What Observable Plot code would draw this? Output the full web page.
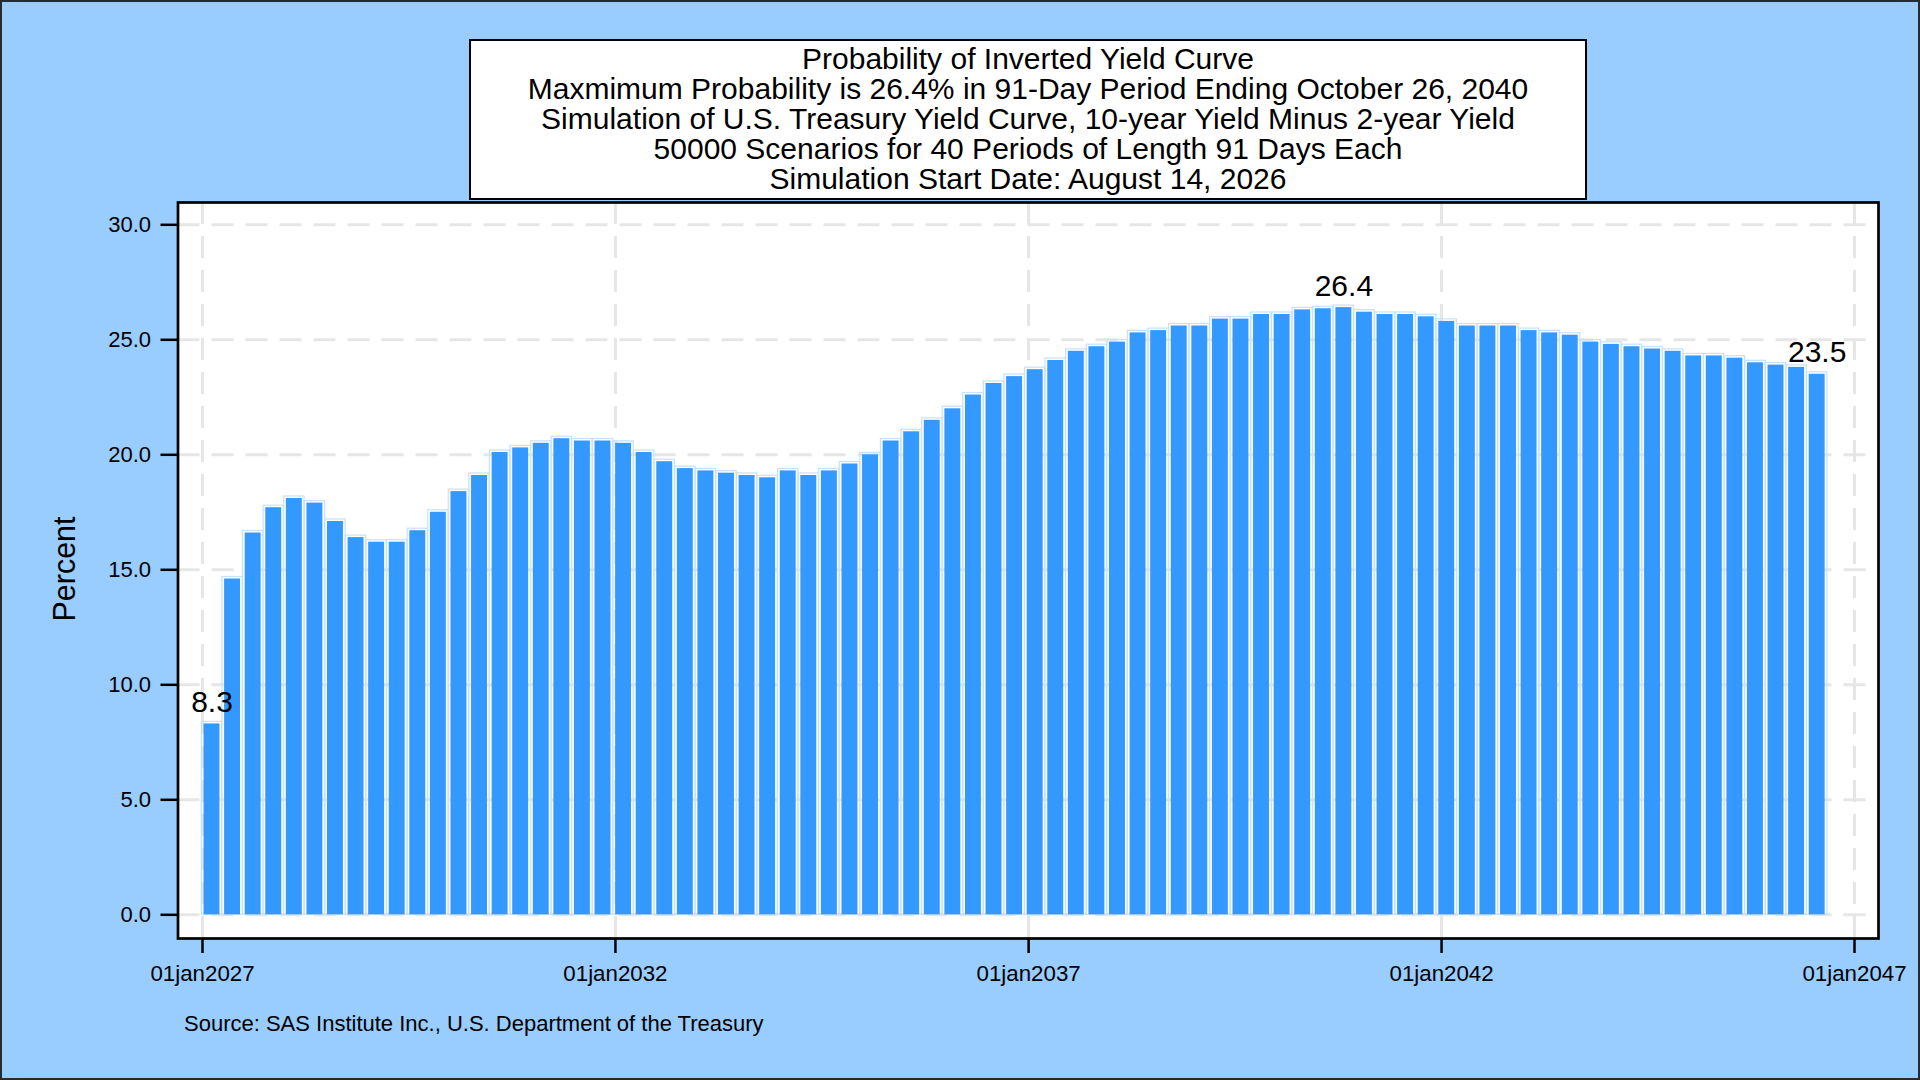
<!DOCTYPE html>
<html>
<head>
<meta charset="utf-8">
<script src="https://cdn.jsdelivr.net/npm/d3@7"></script>
<script src="https://cdn.jsdelivr.net/npm/@observablehq/plot@0.6"></script>
<style>
  html, body { margin: 0; padding: 0; overflow: hidden; }
  #page {
    position: relative; width: 1920px; height: 1080px;
    background: #99ccff; box-sizing: border-box;
    box-shadow: inset 0 0 0 2px #2a2a2a;
    font-family: "Liberation Sans", Arial, sans-serif; color: #000;
  }
  #chart { position: absolute; left: 0; top: 0; }
  #title {
    position: absolute; left: 469px; top: 39px; width: 1118px; height: 161px;
    box-sizing: border-box; border: 2.5px solid #000; background: #fff;
    text-align: center; font-size: 30px; line-height: 30px; padding-top: 2.5px;
    z-index: 2; white-space: nowrap;
  }
  #ylabel {
    position: absolute; left: 64px; top: 569px; font-size: 30.5px; line-height: 30px;
    transform: translate(-50%, -50%) rotate(-90deg); white-space: nowrap;
  }
  #source {
    position: absolute; left: 184px; top: 1013px; font-size: 22px; line-height: 22px;
    white-space: nowrap;
  }
</style>
</head>
<body>
<div id="page">
  <div id="chart"></div>
  <div id="title"></div>
  <div id="ylabel">Percent</div>
  <div id="source">Source: SAS Institute Inc., U.S. Department of the Treasury</div>
</div>
<script>
// ---- data ----
const titleLines = [
  "Probability of Inverted Yield Curve",
  "Maxmimum Probability is 26.4% in 91-Day Period Ending October 26, 2040",
  "Simulation of U.S. Treasury Yield Curve, 10-year Yield Minus 2-year Yield",
  "50000 Scenarios for 40 Periods of Length 91 Days Each",
  "Simulation Start Date: August 14, 2026"
];
const simulationStart = "2026-08-14";
const periodLengthDays = 91;
const firstPeriodShown = 2;
// probability (%) of inverted curve for each 91-day period, periods 2..80
const probability = [
  8.3, 14.6, 16.6, 17.7, 18.1, 17.9, 17.1, 16.4, 16.2, 16.2,
  16.7, 17.5, 18.4, 19.1, 20.1, 20.3, 20.5, 20.7, 20.6, 20.6,
  20.5, 20.1, 19.7, 19.4, 19.3, 19.2, 19.1, 19.0, 19.3, 19.1,
  19.3, 19.6, 20.0, 20.6, 21.0, 21.5, 22.0, 22.6, 23.1, 23.4,
  23.7, 24.1, 24.5, 24.7, 24.9, 25.3, 25.4, 25.6, 25.6, 25.9,
  25.9, 26.1, 26.1, 26.3, 26.35, 26.4, 26.2, 26.1, 26.1, 26.0,
  25.8, 25.6, 25.6, 25.6, 25.4, 25.3, 25.2, 24.9, 24.8, 24.7,
  24.6, 24.5, 24.3, 24.3, 24.2, 24.0, 23.9, 23.8, 23.5
];
const yTicks = [0, 5, 10, 15, 20, 25, 30];
const xTickLabels = ["01jan2027", "01jan2032", "01jan2037", "01jan2042", "01jan2047"];

// ---- build table ----
const DAY = 864e5;
const start = new Date(simulationStart + "T00:00:00Z");
const rows = probability.map((v, i) => {
  const end = new Date(start.getTime() + (firstPeriodShown + i) * periodLengthDays * DAY);
  return {
    end,
    a: new Date(end.getTime() - 35.25 * DAY),
    b: new Date(end.getTime() + 35.25 * DAY),
    v
  };
});
const maxIdx = d3.maxIndex(rows, d => d.v);
const labelRows = [rows[0], rows[maxIdx], rows[rows.length - 1]];
const parseTick = d3.utcParse("%d%b%Y");
const xTicks = xTickLabels.map(s => parseTick(s));
const fmtTick = d => d3.utcFormat("%d%b%Y")(d).toLowerCase();

document.getElementById("title").innerHTML = titleLines.map(t => `<div>${t}</div>`).join("");

const chart = Plot.plot({
  width: 1920,
  height: 1080,
  marginLeft: 177.5,
  marginRight: 42,
  marginTop: 202,
  marginBottom: 142,
  style: { background: "transparent", fontFamily: "Liberation Sans, Arial, sans-serif", fontSize: "22px", color: "#000", overflow: "visible" },
  x: { type: "utc", domain: [xTicks[0], xTicks[xTicks.length - 1]], insetLeft: 24.5, insetRight: 24 },
  y: { domain: [0, 30], insetTop: 22.3, insetBottom: 23.7 },
  marks: [
    Plot.frame({ fill: "#fff", stroke: "none" }),
    Plot.gridY(yTicks, { stroke: "#e6e6e6", strokeOpacity: 1, strokeWidth: 3, strokeDasharray: "22,12" }),
    Plot.gridX(xTicks, { stroke: "#e6e6e6", strokeOpacity: 1, strokeWidth: 3, strokeDasharray: "22,12" }),
    Plot.rect(rows, { x1: "a", x2: "b", y1: 0, y2: "v", fill: "none", stroke: "#c6e0ff", strokeWidth: 1.2,
      insetLeft: -2.2, insetRight: -2.2, insetTop: -2 }),
    Plot.rect(rows, { x1: "a", x2: "b", y1: 0, y2: "v", fill: "#3399ff" }),
    Plot.text(labelRows, { x: "end", y: "v", text: d => d.v.toFixed(1), dy: -12, lineAnchor: "bottom",
      fontSize: 30, fill: "#000" }),
    Plot.frame({ stroke: "#000", strokeWidth: 2.7 }),
    Plot.axisY(yTicks, { tickFormat: d => d.toFixed(1), tickSize: 17, tickPadding: 10, strokeWidth: 2.5,
      fontSize: 22, label: null }),
    Plot.axisX(xTicks, { tickFormat: fmtTick, tickSize: 15, tickPadding: 12, strokeWidth: 2.5,
      fontSize: 22.3, label: null })
  ]
});
document.getElementById("chart").appendChild(chart);
</script>
</body>
</html>
